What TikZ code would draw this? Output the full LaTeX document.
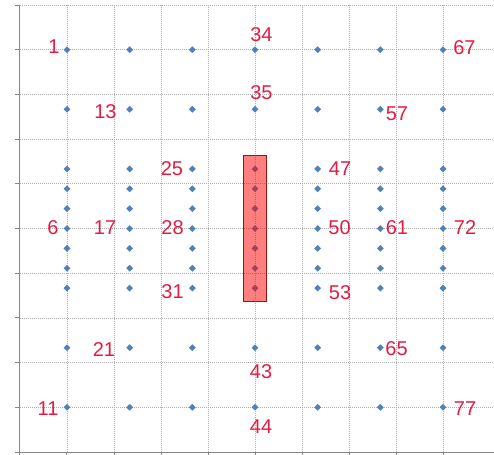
\documentclass[tikz,border=0pt]{standalone}
\usepackage{fontspec}
\newfontfamily\lblfont{Liberation Sans}
\usepackage{tikz}
\usetikzlibrary{shapes.geometric, positioning, fit}
\definecolor{ptblue}{RGB}{79,129,189}
\definecolor{lblred}{RGB}{226,28,66}
\definecolor{gridgray}{RGB}{175,175,175}
\definecolor{axisgray}{RGB}{134,134,134}
\definecolor{zonered}{RGB}{150,20,20}

\begin{document}
\begin{tikzpicture}[x=47pt, y=44.7pt,
  datapt/.style={diamond, fill=ptblue, inner sep=0pt, minimum size=7pt},
  lbl/.style={font=\lblfont\fontsize{20}{24}\selectfont, text=lblred, inner sep=0pt},
  zone/.style={draw=zonered, fill=red, fill opacity=0.5, line width=0.8pt, inner xsep=8pt, inner ysep=10pt},
  gridline/.style={gridgray, dash pattern=on 1.2pt off 0.8pt, line width=0.8pt},
  axis/.style={axisgray, line width=1pt}]
  \useasboundingbox (-0.4255,-0.0447) rectangle (10.085,10.112);
  % grid and axes
  \foreach \i in {1,...,9} \draw[gridline] (\i,0) -- (\i,10);
  \foreach \j in {1,...,10} \draw[gridline] (0,\j) -- (10.085,\j);
  \draw[axis] (0,10) -- (0,0) -- (10.085,0);
  \foreach \j in {0,...,10} \draw[axis] (0,\j) -- ++(-5pt,0);
  \foreach \i in {0,...,9} \draw[axis] (\i,0) -- ++(0,-5pt);
  % points, numbered column by column
  \foreach \c in {0,...,6}
    \foreach [count=\r] \yy in {9,7.667,6.333,5.889,5.444,5,4.556,4.111,3.667,2.333,1} {
      \pgfmathtruncatemacro\n{11*\c+\r}
      \node[datapt] (p\n) at ({1+4*\c/3},\yy) {};
    }
  \node[zone, fit=(p36)(p42)] (zone) {};
  % labels
  \node[lbl] (l1) at (0.723,9.060) {1};
  \node[lbl] (l6) at (0.702,5.011) {6};
  \node[lbl] (l11) at (0.596,0.962) {11};
  \node[lbl] (l13) at (1.819,7.606) {13};
  \node[lbl] (l17) at (1.809,5.011) {17};
  \node[lbl] (l21) at (1.787,2.304) {21};
  \node[lbl] (l25) at (3.234,6.342) {25};
  \node[lbl] (l28) at (3.245,5.011) {28};
  \node[lbl] (l31) at (3.245,3.579) {31};
  \node[lbl] (l34) at (5.138,9.329) {34};
  \node[lbl] (l35) at (5.138,8.043) {35};
  \node[lbl] (l43) at (5.128,1.790) {43};
  \node[lbl] (l44) at (5.128,0.559) {44};
  \node[lbl] (l47) at (6.809,6.331) {47};
  \node[lbl] (l50) at (6.798,5.011) {50};
  \node[lbl] (l53) at (6.809,3.568) {53};
  \node[lbl] (l57) at (8.021,7.573) {57};
  \node[lbl] (l61) at (8.021,5.011) {61};
  \node[lbl] (l65) at (8.011,2.304) {65};
  \node[lbl] (l67) at (9.457,9.049) {67};
  \node[lbl] (l72) at (9.468,5.011) {72};
  \node[lbl] (l77) at (9.468,0.962) {77};
\end{tikzpicture}
\end{document}
